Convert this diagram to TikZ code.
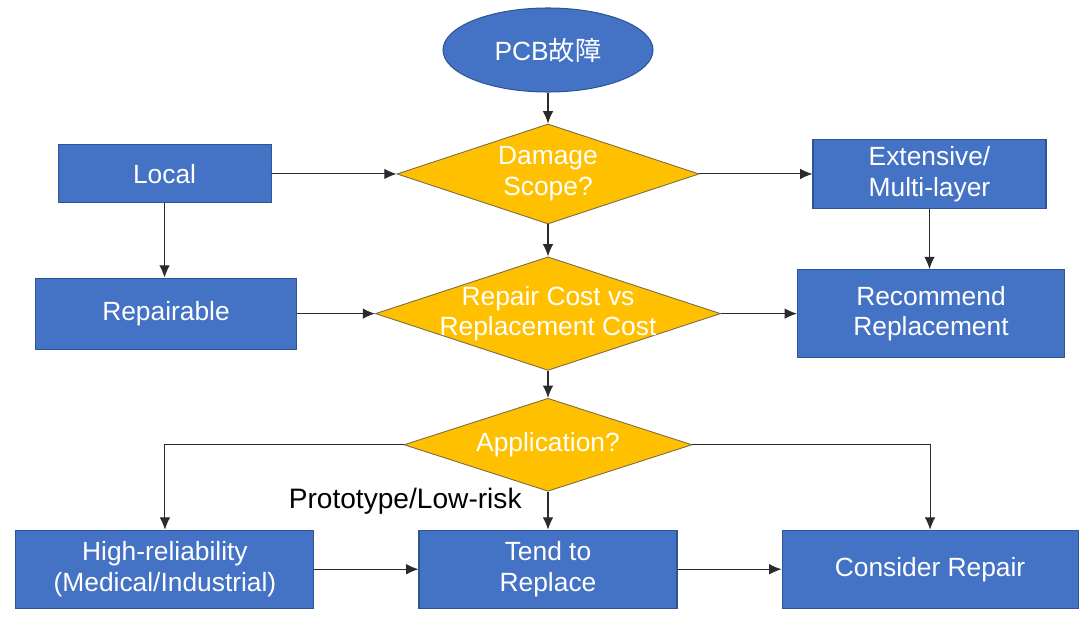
\documentclass[tikz,border=0pt]{standalone}
\usepackage{fontspec}
\setmainfont{Liberation Sans}
\newfontfamily\cjk{Noto Sans CJK SC}
\usetikzlibrary{positioning,shapes.geometric,arrows.meta}

\definecolor{boxblue}{HTML}{4472C4}
\definecolor{boxedge}{HTML}{2F5597}
\definecolor{gold}{HTML}{FFC000}
\definecolor{goldedge}{HTML}{7A6A45}
\definecolor{linegray}{HTML}{2B2B2B}

\begin{document}
\begin{tikzpicture}[
  blockbox/.style={draw=boxedge, fill=boxblue, line width=0.6pt, text=white,
                   align=center, font=\fontsize{15}{17.5}\selectfont},
  decision/.style={diamond, draw=goldedge, fill=gold, line width=0.5pt,
                   text=white, align=center, inner sep=-3pt, shape aspect=3,
                   font=\fontsize{15}{17.5}\selectfont},
  startnode/.style={ellipse, draw=boxedge, fill=boxblue, line width=0.6pt,
                    text=white, minimum width=4.2cm, minimum height=1.68cm,
                    font=\fontsize{15}{17.5}\selectfont},
  flow/.style={draw=linegray, line width=0.6pt, -{Latex[length=7pt,width=6pt]}},
  >=latex
]
\useasboundingbox (0,0) rectangle (21.82,-12.5);

% Start
\node[startnode] (fault) at (10.96,-1.0) {PCB{\cjk 故障}};

% Main decisions
\node[decision, minimum width=6.04cm, minimum height=2.0cm,
      below=0.62cm of fault] (scope) {Damage\\Scope?};
\node[decision, minimum width=6.9cm, minimum height=2.12cm,
      below=0.64cm of scope] (cost) {Repair Cost vs\\Replacement Cost};
\node[decision, minimum width=5.76cm, minimum height=1.86cm,
      below=0.54cm of cost] (app) {Application?};

% Damage scope branches
\node[blockbox, minimum width=4.26cm, minimum height=1.16cm,
      left=2.5cm of scope] (local) {Local};
\node[blockbox, minimum width=4.66cm, minimum height=1.38cm,
      right=2.26cm of scope] (extensive) {Extensive/\\Multi-layer};

% Cost branches
\node[blockbox, minimum width=5.22cm, minimum height=1.42cm,
      left=1.56cm of cost] (repairable) {Repairable};
\node[blockbox, minimum width=5.34cm, minimum height=1.76cm,
      right=1.52cm of cost] (recommend) {Recommend\\Replacement};

% Application outcomes
\node[blockbox, minimum width=5.16cm, minimum height=1.56cm,
      below=0.76cm of app] (tend) {Tend to\\Replace};
\node[blockbox, minimum width=5.96cm, minimum height=1.56cm,
      left=2.08cm of tend] (highrel) {High-reliability\\(Medical/Industrial)};
\node[blockbox, minimum width=5.92cm, minimum height=1.56cm,
      right=2.08cm of tend] (consider) {Consider Repair};

% Spine
\draw[flow] (fault) -- (scope);
\draw[flow] (scope) -- (cost);
\draw[flow] (cost) -- (app);

% Side connections
\draw[flow] (local) -- (scope.west);
\draw[flow] (scope.east) -- (extensive);
\draw[flow] (local) -- (local |- repairable.north);
\draw[flow] (extensive) -- (extensive |- recommend.north);
\draw[flow] (repairable) -- (cost.west);
\draw[flow] (cost.east) -- (recommend);

% Application branches
\draw[flow] (app.west) -| (highrel);
\draw[flow] (app.east) -| (consider);
\draw[flow] (app) -- node[pos=0.25, left=0.4cm,
      font=\fontsize{16}{19}\selectfont] {Prototype/Low-risk} (tend);
\draw[flow] (highrel) -- (tend);
\draw[flow] (tend) -- (consider);

\end{tikzpicture}
\end{document}
